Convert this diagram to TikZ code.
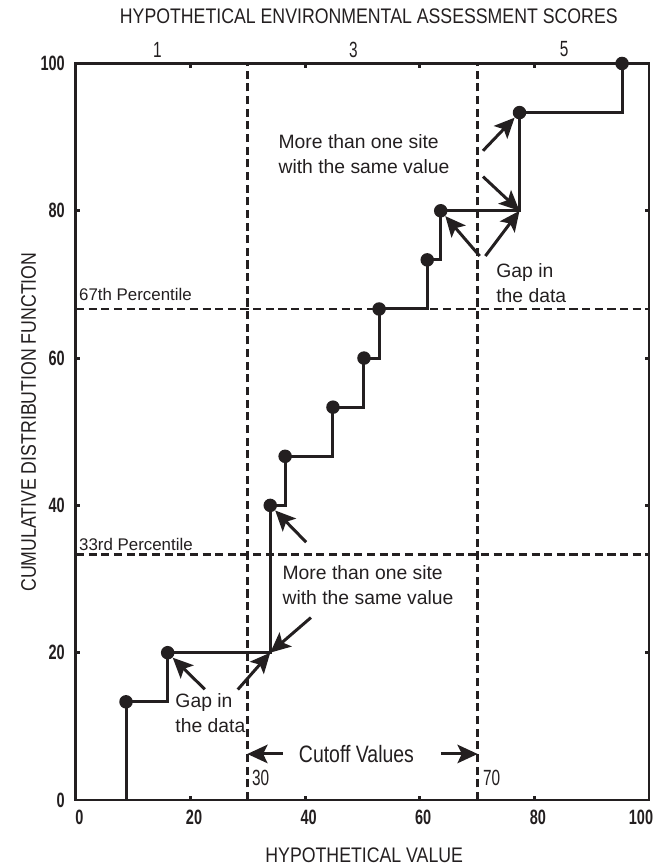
\documentclass[tikz,border=0pt]{standalone}
\usepackage{fontspec}
\setmainfont{Liberation Sans}
\newfontfamily\condfont[FakeStretch=0.82]{Liberation Sans}
\newfontfamily\titlefont[FakeStretch=0.84]{Liberation Sans}
\newfontfamily\numfont[FakeStretch=0.7]{Liberation Sans}
\usetikzlibrary{positioning, arrows.meta}
\definecolor{ink}{HTML}{231F20}

\begin{document}
\begin{tikzpicture}[x=0.1146cm, y=0.1473cm, color=ink]

  \tikzstyle{frame}=[line width=1.7pt]
  \tikzstyle{guide}=[line width=1.6pt, dash pattern=on 4.6pt off 2.6pt]
  \tikzstyle{cdf}=[line width=1.7pt]
  \tikzstyle{site}=[circle, fill=ink, inner sep=0, minimum size=0.27cm]
  \tikzstyle{note}=[font=\fontsize{11}{14.2}\selectfont, align=left, inner sep=0, anchor=west]
  \tikzstyle{pointer}=[-{Stealth[length=11.5pt, width=10.5pt, inset=2.5pt]}, line width=1.7pt]
  \tikzstyle{numlabel}=[font=\numfont\bfseries\fontsize{11.8}{13}\selectfont, inner sep=0]
  \tikzstyle{score}=[font=\numfont\fontsize{12.5}{14}\selectfont, inner sep=0]
  \tikzstyle{axistitle}=[font=\titlefont\fontsize{12}{14}\selectfont, inner sep=0]
  \tikzstyle{pct}=[font=\fontsize{9.6}{11}\selectfont, inner sep=0, anchor=west]

  \useasboundingbox (-13.26,-8.96) rectangle (101.40,108.62);

  % cutoff and percentile guides
  \draw [guide] (30,0) -- (30,100);
  \draw [guide] (70,0) -- (70,100);
  \draw [guide] (0,33.333) -- (100,33.333);
  \draw [guide] (0,66.667) -- (100,66.667);

  % frame with ticks
  \draw [frame] (0,0) rectangle (100,100);
  \foreach \v in {20,40,60,80} {
    \draw [frame] (\v,0) -- ++(0,0.6);
    \draw [frame] (\v,100) -- ++(0,-0.6);
    \draw [frame] (0,\v) -- ++(0.75,0);
    \draw [frame] (100,\v) -- ++(-0.75,0);
  }
  \foreach \v in {0,20,40,60,80} {
    \node [numlabel] (x-\v) at (\v+0.6,-2.4) {\v};
  }
  \node [numlabel] (x-100) at (98.6,-2.4) {100};
  \foreach \v in {0,20,40,60,80,100} {
    \node [numlabel, anchor=east] (y-\v) at (-1.9,\v) {\v};
  }

  \node [axistitle] (xtitle) at (50.3,-7.47) {HYPOTHETICAL VALUE};
  \node [axistitle, rotate=90] (ytitle) at (-8.27,51.3) {CUMULATIVE DISTRIBUTION FUNCTION};
  \node [axistitle] (toptitle) at (51.1,106.35) {HYPOTHETICAL ENVIRONMENTAL ASSESSMENT SCORES};

  \node [score] (score-1) at (14.19,101.9) {1};
  \node [score] (score-3) at (48.4,101.9) {3};
  \node [score] (score-5) at (85.2,101.9) {5};

  \node [pct] (p67) at (0.5,68.6) {67th Percentile};
  \node [pct] (p33) at (0.5,34.76) {33rd Percentile};

  % sites
  \node [site] (s1) at (8.73,13.333) {};
  \node [site] (s2) at (16,20) {};
  \node [site] (s3) at (33.9,40) {};
  \node [site] (s4) at (36.5,46.667) {};
  \node [site] (s5) at (44.85,53.333) {};
  \node [site] (s6) at (50.26,60) {};
  \node [site] (s7) at (52.9,66.667) {};
  \node [site] (s8) at (61.3,73.333) {};
  \node [site] (s9) at (63.65,80) {};
  \node [site] (s10) at (77.4,93.333) {};
  \node [site] (s11) at (95.3,100) {};
  \coordinate (c20) at (33.9,20);
  \coordinate (c80) at (77.4,80);

  \draw [cdf] (0,0) -| (s1.center) -| (s2.center) -| (s3.center) -| (s4.center)
    -| (s5.center) -| (s6.center) -| (s7.center) -| (s8.center) -| (s9.center)
    -| (s10.center) -| (s11.center) -- (100,100);

  % notes
  \node [note] (gap-low) at (17.3,11.76) {Gap in\\the data};
  \node [note] (same-low) at (36.0,29.2) {More than one site\\with the same value};
  \node [note] (same-up) at (35.3,87.75) {More than one site\\with the same value};
  \node [note] (gap-up) at (73.3,70.2) {Gap in\\the data};

  \coordinate (gl-a) at (22.48,15.03);
  \coordinate (gl-b) at (28.24,15.0);
  \coordinate (sl-a) at (41.0,24.77);
  \coordinate (sl-b) at (40.17,35.0);
  \coordinate (su-a) at (71.03,88.15);
  \coordinate (su-b) at (71.03,84.64);
  \coordinate (gu-a) at (70.45,73.86);
  \coordinate (gu-b) at (71.45,73.86);

  \draw [pointer] (gl-a) -- (s2);
  \draw [pointer] (gl-b) -- (c20);
  \draw [pointer] (sl-a) -- (c20);
  \draw [pointer] (sl-b) -- (s3);
  \draw [pointer] (su-a) -- (s10);
  \draw [pointer] (su-b) -- (c80);
  \draw [pointer] (gu-a) -- (s9);
  \draw [pointer] (gu-b) -- (c80);

  % cutoff values
  \node [font=\condfont\fontsize{13.5}{15}\selectfont, inner sep=0] (cutoff) at (48.95,6.25) {Cutoff Values};
  \coordinate (cut-l) at (36.1,6.25);
  \coordinate (cut-30) at (29.9,6.25);
  \coordinate (cut-r) at (63.7,6.25);
  \coordinate (cut-70) at (70.1,6.25);
  \draw [pointer] (cut-l) -- (cut-30);
  \draw [pointer] (cut-r) -- (cut-70);
  \node [score, anchor=west] (v30) at (30.66,2.99) {30};
  \node [score, anchor=west] (v70) at (70.98,2.99) {70};

\end{tikzpicture}
\end{document}
